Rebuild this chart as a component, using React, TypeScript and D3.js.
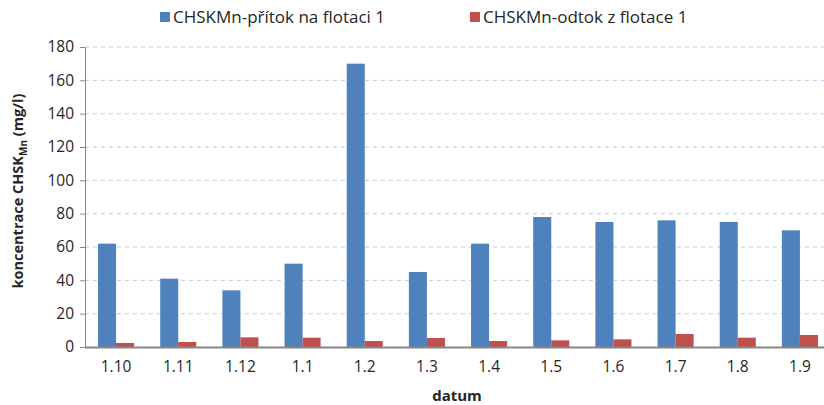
import React, {useEffect, useRef} from "react";
import * as d3 from "d3";

const categories = ["1.10", "1.11", "1.12", "1.1", "1.2", "1.3", "1.4", "1.5", "1.6", "1.7", "1.8", "1.9"];
const inflow = [62, 41, 34, 50, 170, 45, 62, 78, 75, 76, 75, 70];
const outflow = [2.4, 3, 5.8, 5.6, 3.6, 5.4, 3.6, 4, 4.6, 7.8, 5.6, 7.2];
const seriesNames = ["CHSKMn-přítok na flotaci 1", "CHSKMn-odtok z flotace 1"];
const colors = ["#4f81bd", "#c0504d"];
const yTicks = [0, 20, 40, 60, 80, 100, 120, 140, 160, 180];

export default function App() {
  const ref = useRef<SVGSVGElement>(null);
  const width = 824;
  const height = 405;
  // plot runs past the right edge (cropped image)
  const left = 85, right = 831, top = 47, bottom = 347;
  const font = "'Open Sans', sans-serif";

  useEffect(() => {
    const svg = d3.select(ref.current);
    svg.selectAll("*").remove();

    const x = d3.scaleBand().domain(categories).range([left, right]).paddingInner(0.42).paddingOuter(0.21);
    const sub = d3.scaleBand().domain(["0", "1"]).range([0, x.bandwidth()]);
    const y = d3.scaleLinear().domain([0, 180]).range([bottom, top]);

    // grid
    svg.append("g")
      .selectAll("line")
      .data(yTicks.filter(d => d > 0))
      .join("line")
      .attr("x1", left).attr("x2", width)
      .attr("y1", d => y(d)).attr("y2", d => y(d))
      .attr("stroke", "#b9cde5").attr("stroke-width", 1)
      .attr("stroke-dasharray", "4,4");

    // bars
    const data = categories.map((c, i) => ({c, vals: [inflow[i], outflow[i]]}));
    const groups = svg.append("g").selectAll("g")
      .data(data).join("g")
      .attr("transform", d => `translate(${x(d.c)},0)`);
    groups.selectAll("rect")
      .data(d => d.vals.map((v, k) => ({v, k})))
      .join("rect")
      .attr("x", d => sub(String(d.k))!)
      .attr("width", sub.bandwidth())
      .attr("y", d => y(d.v))
      .attr("height", d => bottom - y(d.v))
      .attr("fill", d => colors[d.k]);

    // y axis
    const yAxis = svg.append("g")
      .attr("transform", `translate(${left},0)`)
      .call(d3.axisLeft(y).tickValues(yTicks).tickSize(5).tickPadding(6));
    yAxis.select(".domain").attr("stroke", "#868686");
    yAxis.selectAll(".tick line").attr("stroke", "#868686");
    yAxis.selectAll("text").style("font-size", "15.5px").style("font-family", font).attr("fill", "#262626");

    // x axis
    const xAxis = svg.append("g")
      .attr("transform", `translate(0,${bottom})`)
      .call(d3.axisBottom(x).tickSize(0).tickPadding(14).tickSizeOuter(0));
    xAxis.select(".domain").attr("stroke", "#868686").attr("stroke-width", 2);
    xAxis.selectAll("text").style("font-size", "15.5px").style("font-family", font).attr("fill", "#262626");

    // axis labels
    svg.append("text")
      .attr("x", 457).attr("y", 401)
      .attr("text-anchor", "middle")
      .style("font-family", font).style("font-size", "15px").style("font-weight", "bold")
      .attr("fill", "#262626")
      .text("datum");

    const yl = svg.append("text")
      .attr("transform", `translate(23,191) rotate(-90)`)
      .attr("text-anchor", "middle")
      .style("font-family", font).style("font-size", "14.5px").style("font-weight", "bold")
      .attr("fill", "#262626");
    yl.append("tspan").text("koncentrace CHSK");
    yl.append("tspan").attr("dy", 4).style("font-size", "10px").text("Mn");
    yl.append("tspan").attr("dy", -4).text(" (mg/l)");

    // legend
    const legendX = [160, 470];
    const legend = svg.append("g").selectAll("g")
      .data(seriesNames).join("g")
      .attr("transform", (d, i) => `translate(${legendX[i]},17)`);
    legend.append("rect").attr("x", 0).attr("y", -5).attr("width", 10).attr("height", 10)
      .attr("fill", (d, i) => colors[i]);
    legend.append("text").attr("x", 13).attr("dy", "0.36em")
      .style("font-family", font).style("font-size", "17px").attr("fill", "#262626")
      .text(d => d);
  }, []);

  return (
    <svg ref={ref} width={width} height={height} style={{position: "absolute", left: 0, top: 0}} />
  );
}
